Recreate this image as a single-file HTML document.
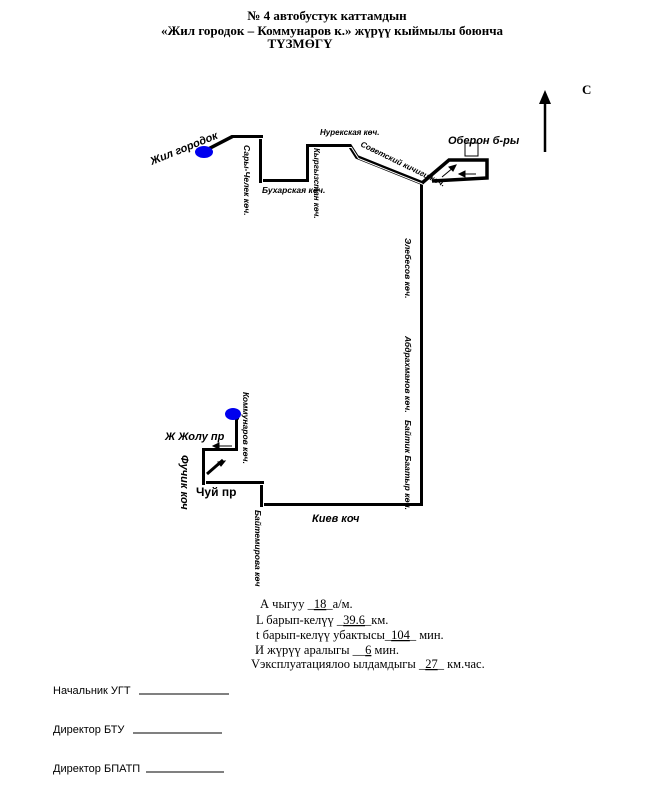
<!DOCTYPE html>
<html><head><meta charset="utf-8"><style>
html,body{margin:0;padding:0;background:#fff;}
svg{display:block}
.t{font-family:"Liberation Serif",serif;font-weight:bold;font-size:13px}
.s{font-family:"Liberation Sans",sans-serif;font-style:italic;font-weight:bold}
.n{font-family:"Liberation Serif",serif;font-size:12.5px}
.g{font-family:"Liberation Sans",sans-serif;font-size:11px}
</style></head><body>
<svg width="664" height="798" viewBox="0 0 664 798" xmlns="http://www.w3.org/2000/svg">
<text class="t" x="327" y="20" text-anchor="middle">№ 4 автобустук каттамдын</text>
<text class="t" x="332" y="35" text-anchor="middle">«Жил городок – Коммунаров  к.» жүрүү кыймылы  боюнча</text>
<text class="t" x="300" y="48" text-anchor="middle">ТҮЗМӨГҮ</text>

<line x1="545" y1="152" x2="545" y2="102" stroke="#000" stroke-width="2.5"/>
<polygon points="539,104 551,104 545,90" fill="#000"/>
<text x="582" y="94" font-family="Liberation Serif,serif" font-weight="bold" font-size="13">C</text>

<g fill="none" stroke-linejoin="miter">
<polyline points="203,152 232,137 261,137 261,181 308,181 308,146 350,146 357,157 422,183 422,505 262,505 262,483 204,483 204,450 237,450 237,418" stroke="#000" stroke-width="4"/>
<polyline points="203,152 232,137 261,137 261,181 308,181 308,146 350,146 357,157 422,183 422,505 262,505 262,483 204,483 204,450 237,450 237,418" stroke="#fff" stroke-width="1" transform="translate(1.5,1.5)"/>
<polyline points="422,183 449,160 487,160 487,178 432,181" stroke="#000" stroke-width="3.5"/>
<line x1="207" y1="474" x2="223" y2="460" stroke="#000" stroke-width="3"/>
</g>
<rect x="465" y="143" width="13" height="13" fill="#fff" stroke="#000"/>
<g stroke="#000" stroke-width="1">
<line x1="442" y1="177" x2="454" y2="167"/><polygon points="456,165 449,167 453,171" fill="#000"/>
<line x1="476" y1="174" x2="462" y2="174"/><polygon points="459,174 465,171 465,177" fill="#000"/>
<line x1="232" y1="446" x2="216" y2="446"/><polygon points="213,446 219,443 219,449" fill="#000"/>
<line x1="211" y1="470" x2="222" y2="463"/><polygon points="225,461 218,462 221,466" fill="#000"/>
</g>
<ellipse cx="204" cy="152" rx="9" ry="6" fill="#0000ee"/>
<ellipse cx="233" cy="414" rx="8" ry="6" fill="#0000ee"/>

<g class="s" font-size="10">
<text transform="translate(152,165) rotate(-22)" font-size="11">Жил городок</text>
<text transform="translate(244,145) rotate(90)" font-size="8.5">Сары-Челек көч.</text>
<text x="262" y="193" font-size="8.5">Бухарская көч.</text>
<text x="320" y="135" font-size="8">Нурекская көч.</text>
<text transform="translate(314,148) rotate(90)" font-size="8">Кыргызстан көч.</text>
<text transform="translate(360,146) rotate(26)" font-size="8">Советский кичиги көч.</text>
<text x="448" y="144" font-size="11">Оберон б-ры</text>
<text transform="translate(405,238) rotate(90)" font-size="8.5">Элебесов көч.</text>
<text transform="translate(405,336) rotate(90)" font-size="8.5">Абдрахманов көч.</text>
<text transform="translate(405,420) rotate(90)" font-size="8.5">Байтик Баатыр көч.</text>
<text transform="translate(243,392) rotate(90)" font-size="8.5">Коммунаров көч.</text>
<text x="165" y="440" font-size="11">Ж Жолу пр</text>
<text transform="translate(181,455) rotate(90)" font-size="11">Фучик коч</text>
<text x="196" y="496" font-size="12" font-style="normal">Чуй пр</text>
<text x="312" y="522" font-size="11">Киев коч</text>
<text transform="translate(255,510) rotate(90)" font-size="8.5">Байтемирова көч</text>
</g>

<g class="n">
<text x="260" y="608">А чыгуу   _<tspan text-decoration="underline">18</tspan>_а/м.</text>
<text x="256" y="624">L барып-келүү   _<tspan text-decoration="underline">39.6</tspan>_км.</text>
<text x="256" y="639">t барып-келүү  убактысы_<tspan text-decoration="underline">104</tspan>_  мин.</text>
<text x="255" y="654">И жүрүү аралыгы  __<tspan text-decoration="underline">6</tspan>     мин.</text>
<text x="251" y="668">Vэксплуатациялоо  ылдамдыгы  _<tspan text-decoration="underline">27</tspan>_ км.час.</text>
</g>
<g class="g">
<text x="53" y="694">Начальник УГТ</text><line x1="139" y1="694" x2="229" y2="694" stroke="#000"/>
<text x="53" y="733">Директор  БТУ</text><line x1="133" y1="733" x2="222" y2="733" stroke="#000"/>
<text x="53" y="772">Директор БПАТП</text><line x1="146" y1="772" x2="224" y2="772" stroke="#000"/>
</g>
</svg>
</body></html>
